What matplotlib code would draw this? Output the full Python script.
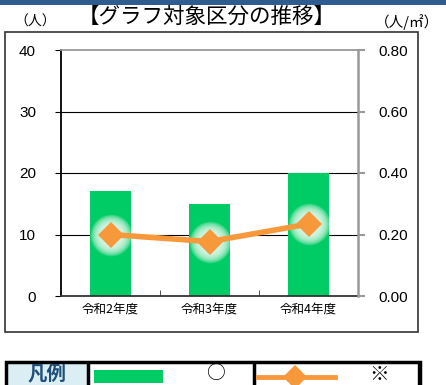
import numpy as np
import matplotlib
matplotlib.use('Agg')
import matplotlib.pyplot as plt
from matplotlib.patches import Rectangle
from matplotlib.lines import Line2D

plt.rcParams['font.family'] = ['Noto Sans CJK JP', 'DejaVu Sans']

# data
years = ['令和2年度', '令和3年度', '令和4年度']
people = [17, 15, 20]          # 左軸（人）
density = [0.20, 0.177, 0.234]  # 右軸（人/㎡）
left_ticks = [0, 10, 20, 30, 40]
right_ticks = [0.0, 0.2, 0.4, 0.6, 0.8]

W, H = 446, 385
fig = plt.figure(figsize=(W/100, H/100), dpi=100)

def fx(x): return x / W
def fy(y): return 1 - y / H

# 上の帯
fig.patches.append(Rectangle((0, fy(5)), 1, 5/H, transform=fig.transFigure,
                             facecolor='#2E5C8E', edgecolor='none'))
# グラフ枠
fig.patches.append(Rectangle((fx(5), fy(332)), fx(413), 300/H, transform=fig.transFigure,
                             facecolor='white', edgecolor='#333333', linewidth=1.2, zorder=-5))

fig.text(fx(207), fy(17), '【グラフ対象区分の推移】', ha='center', va='center', fontsize=15.5)
fig.text(fx(35), fy(22), '（人）', ha='center', va='center', fontsize=10)
fig.text(fx(407), fy(22), '（人/㎡）', ha='center', va='center', fontsize=10.5)

ax = fig.add_axes([fx(61), fy(296), fx(358-61), (296-50)/H])
x = np.arange(len(years))
ax.bar(x, people, width=0.42, color='#00CC66', zorder=2)
ax.set_xlim(-0.5, 2.5)
ax.set_ylim(0, 40)
ax.set_yticks(left_ticks)
ax.set_yticklabels([str(t) for t in left_ticks], fontsize=11, family='Liberation Sans')
ax.tick_params(axis='y', direction='out', length=4, pad=14, color='black')
ax.set_xticks(x)
ax.set_xticklabels(years, fontsize=9)
ax.tick_params(axis='x', length=0, pad=5)
ax.set_xticks([0.5, 1.5], minor=True)
ax.tick_params(axis='x', which='minor', direction='in', length=4, color='#333333')
for v in [10, 20, 30]:
    ax.axhline(v, color='black', linewidth=0.8, zorder=1)
ax.spines['left'].set_color('black')
ax.spines['bottom'].set_color('#333333')
ax.spines['top'].set_color('#999999')
ax.spines['right'].set_visible(False)
for s in ax.spines.values():
    s.set_linewidth(1.3)

ax2 = ax.twinx()
ax2.set_ylim(0, 0.8)
ax2.set_yticks(right_ticks)
ax2.set_yticklabels(['%.2f' % t for t in right_ticks], fontsize=11, family='Liberation Sans')
ax2.tick_params(axis='y', direction='out', length=5, pad=10, color='#999999', width=1.5)
for k in ['left', 'top', 'bottom']:
    ax2.spines[k].set_visible(False)
ax2.spines['right'].set_color('#999999')
ax2.spines['right'].set_linewidth(1.8)
# ぼかし
for ms in np.linspace(30, 16, 12):
    ax2.plot(x, density, linestyle='none', marker='o', markersize=ms,
             color='#E6FAEC', alpha=0.18, markeredgewidth=0)
ax2.plot(x, density, color='#F7993A', linewidth=4, marker='D', markersize=13,
         markeredgewidth=0, solid_capstyle='butt')

# 凡例
fig.patches.append(Rectangle((fx(7), fy(385)), fx(81), 22/H, transform=fig.transFigure,
                             facecolor='#DAEEF3', edgecolor='none'))
fig.patches.append(Rectangle((fx(6), fy(390)), fx(414), 28/H, transform=fig.transFigure,
                             facecolor='none', edgecolor='black', linewidth=2.5))
for xv, lw in [(88, 2.5), (254, 2.5), (418, 1)]:
    fig.lines.append(Line2D([fx(xv), fx(xv)], [fy(363), 0], transform=fig.transFigure,
                            color='black', linewidth=lw))
fig.text(fx(47), fy(375), '凡例', ha='center', va='center', fontsize=14,
         color='#1F4E79', fontweight='bold')
fig.patches.append(Rectangle((fx(94), fy(383)), fx(69), 13/H, transform=fig.transFigure,
                             facecolor='#00CC66', edgecolor='none'))
fig.text(fx(215), fy(374), '○', ha='center', va='center', fontsize=13.5)
fig.lines.append(Line2D([fx(258), fx(335)], [fy(377), fy(377)], transform=fig.transFigure,
                        color='#F7993A', linewidth=3.5))
fig.lines.append(Line2D([fx(295)], [fy(377)], transform=fig.transFigure, marker='D',
                        markersize=12, color='#F7993A', markeredgewidth=0))
fig.text(fx(379), fy(374), '※', ha='center', va='center', fontsize=14)

fig.savefig('out.png', dpi=100)
